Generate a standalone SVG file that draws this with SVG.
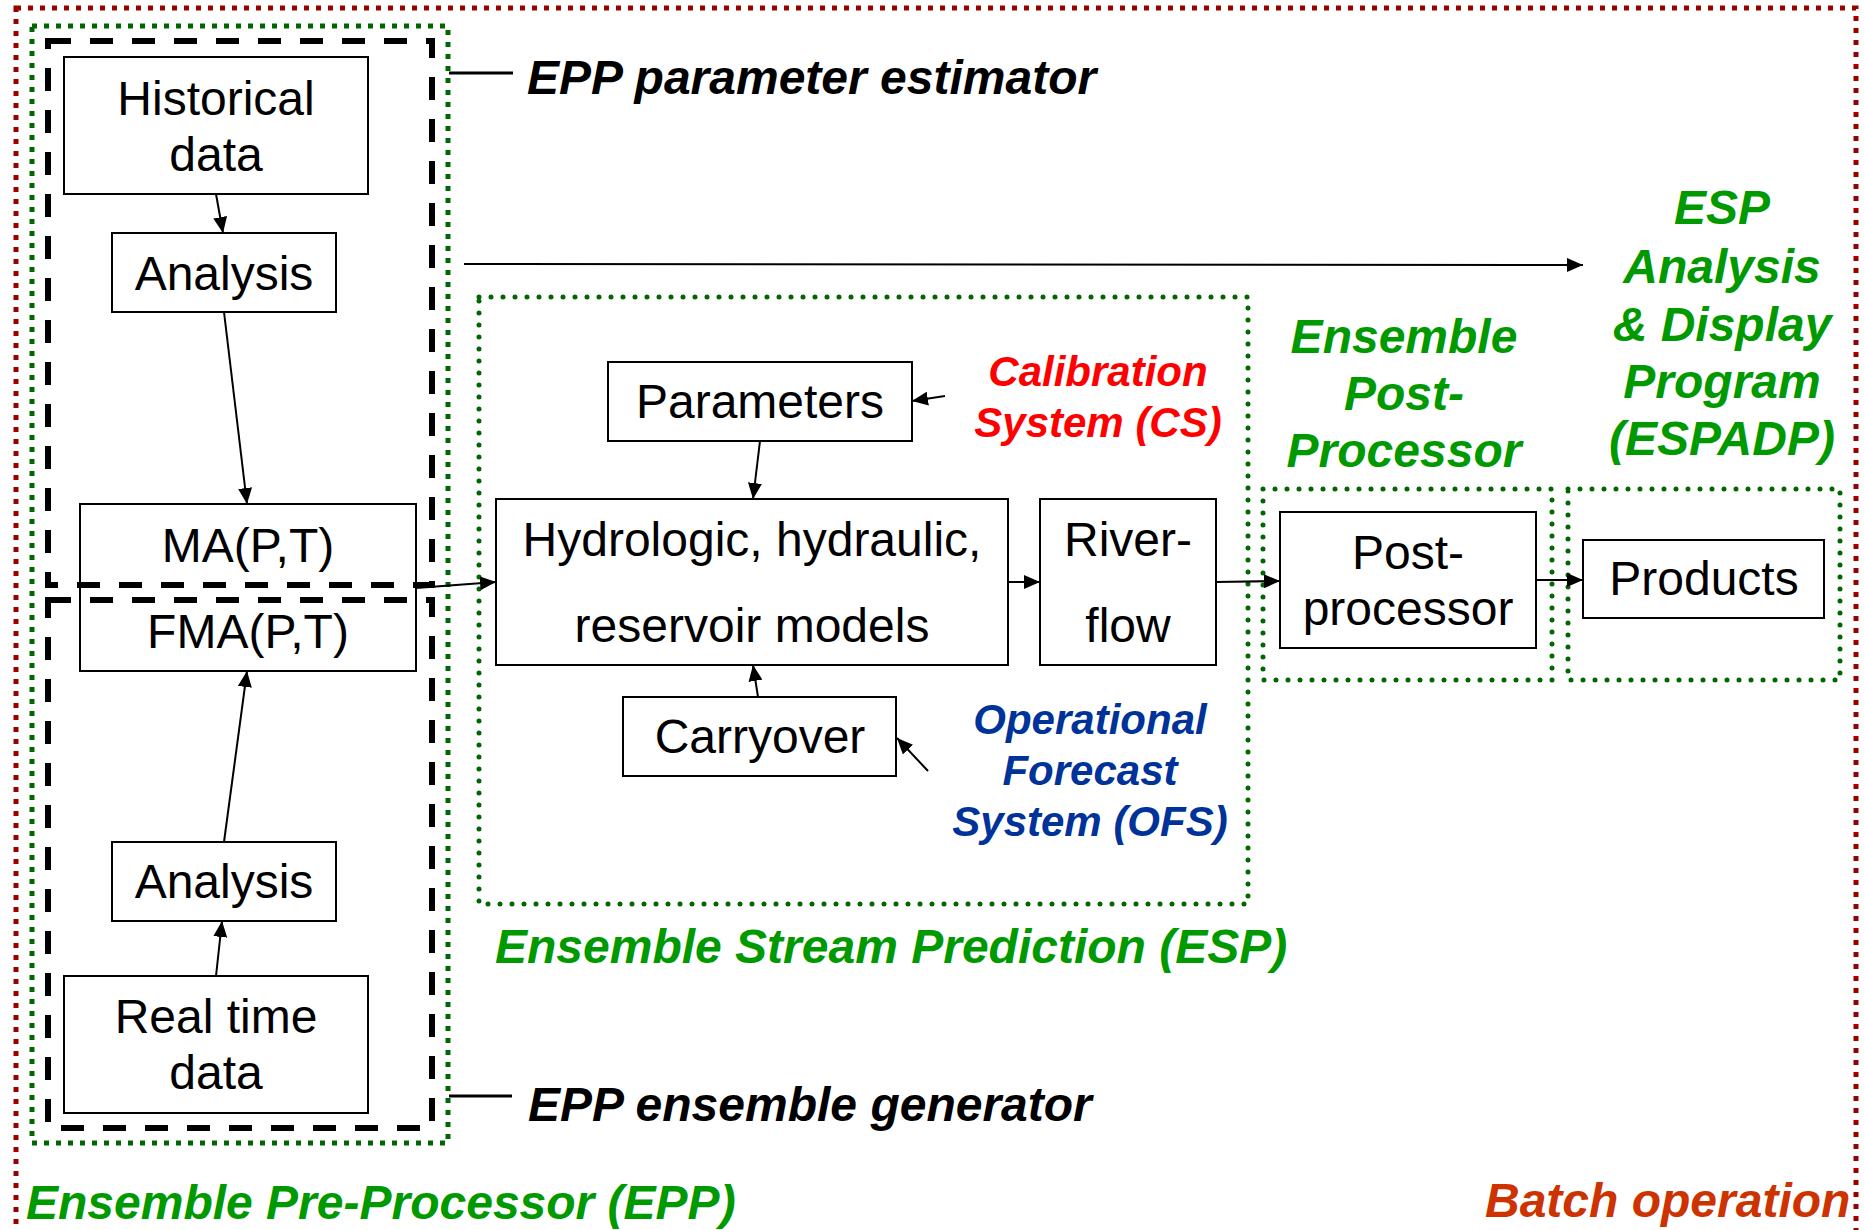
<svg xmlns="http://www.w3.org/2000/svg" width="1864" height="1230" viewBox="0 0 1864 1230">
<defs>
<style>
.bx{fill:#fff;stroke:#000;stroke-width:2}
.t{font-family:"Liberation Sans",Arial,sans-serif;font-size:48px;fill:#000;text-anchor:middle}
.lb{font-family:"Liberation Sans",Arial,sans-serif;font-size:48px;font-weight:bold;font-style:italic}
.sm{font-size:42px}
.g{fill:#009900}
.sq{fill:none;stroke-width:5;stroke-dasharray:5 7}
.rd{fill:none;stroke:#006600;stroke-width:5;stroke-linecap:round;stroke-dasharray:0 12}
.dsh{fill:none;stroke:#000;stroke-width:6;stroke-dasharray:23 19}
.c{stroke:#000;stroke-width:2;fill:none}
</style>
<marker id="ah" viewBox="0 0 16 14" markerWidth="16" markerHeight="14" refX="16" refY="7" orient="auto" markerUnits="userSpaceOnUse">
<path d="M0,0 L16,7 L0,14 z" fill="#000"/>
</marker>
</defs>
<rect width="1864" height="1230" fill="#fff"/>

<g id="batch-frame">
<rect x="16" y="8" width="1840" height="1240" class="sq" stroke="#990000"/>
<text x="1485" y="1217" class="lb" fill="#CC3300">Batch operation</text>
</g>

<g id="epp-frame">
<rect x="32" y="26" width="416" height="1117" class="sq" stroke="#006600"/>
<text x="26" y="1219" class="lb g">Ensemble Pre-Processor (EPP)</text>
</g>

<g id="esp-frame">
<rect x="479" y="297" width="769" height="607" class="rd"/>
<text x="495" y="963" class="lb g">Ensemble Stream Prediction (ESP)</text>
</g>

<g id="epost-frame">
<rect x="1263" y="489" width="289" height="191" class="rd"/>
<text class="lb g" text-anchor="middle"><tspan x="1404" y="353">Ensemble</tspan><tspan x="1404" y="410">Post-</tspan><tspan x="1404" y="467">Processor</tspan></text>
</g>

<g id="espadp-frame">
<rect x="1568" y="489" width="272" height="191" class="rd"/>
<text class="lb g" text-anchor="middle"><tspan x="1722" y="224">ESP</tspan><tspan x="1722" y="283">Analysis</tspan><tspan x="1722" y="341">&amp; Display</tspan><tspan x="1722" y="398">Program</tspan><tspan x="1722" y="455">(ESPADP)</tspan></text>
</g>

<g id="historical">
<rect x="64" y="57" width="304" height="137" class="bx"/>
<text class="t"><tspan x="216" y="115">Historical</tspan><tspan x="216" y="171">data</tspan></text>
</g>
<g id="analysis1">
<rect x="112" y="233" width="224" height="79" class="bx"/>
<text x="224" y="290" class="t">Analysis</text>
</g>
<g id="ma-fma">
<rect x="80" y="504" width="336" height="167" class="bx"/>
<text x="248" y="562" class="t">MA(P,T)</text>
<text x="248" y="648" class="t">FMA(P,T)</text>
</g>
<g id="analysis2">
<rect x="112" y="842" width="224" height="79" class="bx"/>
<text x="224" y="898" class="t">Analysis</text>
</g>
<g id="realtime">
<rect x="64" y="976" width="304" height="137" class="bx"/>
<text class="t"><tspan x="216" y="1033">Real time</tspan><tspan x="216" y="1089">data</tspan></text>
</g>

<g id="param-estimator">
<rect x="48" y="41" width="384" height="544" class="dsh"/>
<text x="527" y="94" class="lb">EPP parameter estimator</text>
</g>
<g id="ensemble-generator">
<rect x="48" y="600" width="384" height="528" class="dsh"/>
<text x="528" y="1121" class="lb">EPP ensemble generator</text>
</g>

<g id="parameters">
<rect x="608" y="362" width="304" height="79" class="bx"/>
<text x="760" y="418" class="t">Parameters</text>
</g>
<g id="models">
<rect x="496" y="499" width="512" height="166" class="bx"/>
<text class="t"><tspan x="752" y="556">Hydrologic, hydraulic,</tspan><tspan x="752" y="642">reservoir models</tspan></text>
</g>
<g id="riverflow">
<rect x="1040" y="499" width="176" height="166" class="bx"/>
<text class="t"><tspan x="1128" y="556">River-</tspan><tspan x="1128" y="642">flow</tspan></text>
</g>
<g id="carryover">
<rect x="623" y="697" width="273" height="79" class="bx"/>
<text x="760" y="753" class="t">Carryover</text>
</g>
<g id="cs">
<text class="lb sm" fill="#FF0000" text-anchor="middle"><tspan x="1098" y="386">Calibration</tspan><tspan x="1098" y="437">System (CS)</tspan></text>
</g>
<g id="ofs">
<text class="lb sm" fill="#003399" text-anchor="middle"><tspan x="1090" y="734">Operational</tspan><tspan x="1090" y="785">Forecast</tspan><tspan x="1090" y="836">System (OFS)</tspan></text>
</g>
<g id="postprocessor">
<rect x="1280" y="512" width="256" height="136" class="bx"/>
<text class="t"><tspan x="1408" y="569">Post-</tspan><tspan x="1408" y="625">processor</tspan></text>
</g>
<g id="products">
<rect x="1583" y="540" width="241" height="78" class="bx"/>
<text x="1704" y="595" class="t">Products</text>
</g>

<g id="connectors">
<line x1="216" y1="194" x2="223" y2="233" class="c" marker-end="url(#ah)"/>
<line x1="224" y1="312" x2="247" y2="504" class="c" marker-end="url(#ah)"/>
<line x1="224" y1="842" x2="247" y2="671" class="c" marker-end="url(#ah)"/>
<line x1="216" y1="976" x2="222" y2="921" class="c" marker-end="url(#ah)"/>
<line x1="416" y1="588" x2="496" y2="582" class="c" marker-end="url(#ah)"/>
<line x1="760" y1="441" x2="753" y2="499" class="c" marker-end="url(#ah)"/>
<line x1="945" y1="396" x2="912" y2="401" class="c" marker-end="url(#ah)"/>
<line x1="758" y1="697" x2="753" y2="665" class="c" marker-end="url(#ah)"/>
<line x1="928" y1="771" x2="897" y2="738" class="c" marker-end="url(#ah)"/>
<line x1="1008" y1="582" x2="1040" y2="582" class="c" marker-end="url(#ah)"/>
<line x1="1216" y1="582" x2="1280" y2="581" class="c" marker-end="url(#ah)"/>
<line x1="1536" y1="580" x2="1583" y2="580" class="c" marker-end="url(#ah)"/>
<line x1="464" y1="264" x2="1583" y2="265" class="c" stroke-width="2.5" marker-end="url(#ah)"/>
<line x1="449" y1="73" x2="513" y2="73" stroke="#000" stroke-width="3"/>
<line x1="449" y1="1096" x2="512" y2="1096" stroke="#000" stroke-width="3"/>
</g>
</svg>
